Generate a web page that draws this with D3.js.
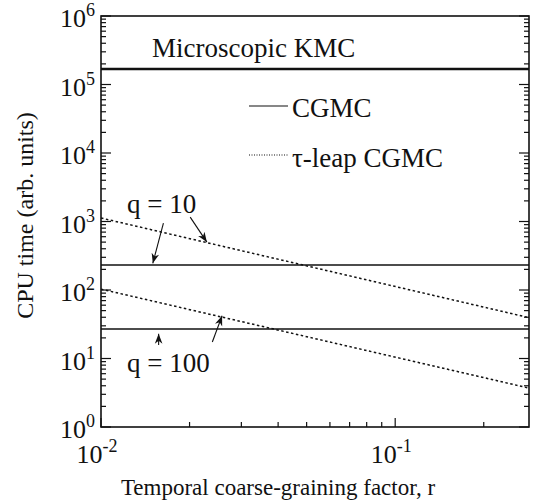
<!DOCTYPE html>
<html>
<head>
<meta charset="utf-8">
<script src="https://cdn.jsdelivr.net/npm/d3@7"></script>
<style>
  body { margin: 0; background: white; }
</style>
</head>
<body>
<svg id="chart"></svg>
<script>
const width = 535;
const height = 503;
const margin = { top: 16, right: 6, bottom: 76, left: 101 };
const serif = "'Liberation Serif', 'Times New Roman', Times, serif";

// data
const rRange = [0.01, 0.285];
const kmcValue = 1.68e5;                 // microscopic KMC, flat
const cgmcValues = { q10: 232, q100: 27 };  // CGMC, flat
const tauLeapQ10 = [1125, 39.5];         // at rRange ends
const tauLeapQ100 = [103, 3.7];

const yTicks = [1, 10, 100, 1e3, 1e4, 1e5, 1e6];
const xTicks = [0.01, 0.1];

// annotation arrows [from, to] in data space
const arrows = [
  [[0.0163, 950], [0.0150, 245]],
  [[0.0201, 1160], [0.0229, 500]],
  [[0.0157, 15.7], [0.0157, 23]],
  [[0.0239, 17.4], [0.0258, 42]]
];
const labels = [
  { text: 'q = 10', r: 0.01226, v: 1330 },
  { text: 'q = 100', r: 0.01226, v: 6.35 }
];

const innerW = width - margin.left - margin.right;
const innerH = height - margin.top - margin.bottom;

const svg = d3.select('#chart')
  .attr('width', width)
  .attr('height', height)
  .attr('font-family', serif);

const g = svg.append('g').attr('transform', `translate(${margin.left},${margin.top})`);

const x = d3.scaleLog().domain(rRange).range([0, innerW]);
const y = d3.scaleLog().domain([1, 1e6]).range([innerH, 0]);

const defs = svg.append('defs');
defs.append('marker')
  .attr('id', 'arrow')
  .attr('viewBox', '0 0 10 10')
  .attr('refX', 10).attr('refY', 5)
  .attr('markerWidth', 10).attr('markerHeight', 10)
  .attr('markerUnits', 'userSpaceOnUse')
  .attr('orient', 'auto')
  .append('path')
  .attr('d', 'M0,1.2 L10,5 L0,8.8 L3,5 Z')
  .attr('fill', '#111');

// minor tick values
const yMinor = [];
for (let e = 0; e < 6; e++) for (let k = 2; k <= 9; k++) yMinor.push(k * Math.pow(10, e));
const xMinor = [];
for (let k = 2; k <= 9; k++) xMinor.push(k * 0.01);
xMinor.push(0.2);

// ticks (inward)
const tickG = g.append('g').attr('stroke', '#111').attr('stroke-width', 1.2);
yTicks.forEach(v => {
  tickG.append('line').attr('x1', 0).attr('x2', 10).attr('y1', y(v)).attr('y2', y(v));
  tickG.append('line').attr('x1', innerW).attr('x2', innerW - 10).attr('y1', y(v)).attr('y2', y(v));
});
yMinor.forEach(v => {
  tickG.append('line').attr('x1', 0).attr('x2', 5).attr('y1', y(v)).attr('y2', y(v));
  tickG.append('line').attr('x1', innerW).attr('x2', innerW - 5).attr('y1', y(v)).attr('y2', y(v));
});
xTicks.forEach(v => {
  tickG.append('line').attr('x1', x(v)).attr('x2', x(v)).attr('y1', innerH).attr('y2', innerH - 9);
});
xMinor.forEach(v => {
  tickG.append('line').attr('x1', x(v)).attr('x2', x(v)).attr('y1', innerH).attr('y2', innerH - 5);
});

// frame
g.append('rect')
  .attr('width', innerW).attr('height', innerH)
  .attr('fill', 'none').attr('stroke', '#111').attr('stroke-width', 1.6);

// tick labels
const supLabel = (sel, exp) => {
  sel.append('tspan').text('10');
  sel.append('tspan').attr('dy', -11).attr('font-size', 18).text(exp);
};
yTicks.forEach(v => {
  const t = g.append('text')
    .attr('x', -6).attr('y', y(v) + 11)
    .attr('text-anchor', 'end').attr('font-size', 26).attr('fill', '#111');
  supLabel(t, String(Math.round(Math.log10(v))));
});
xTicks.forEach(v => {
  const t = g.append('text')
    .attr('x', x(v) - 4).attr('y', innerH + 36)
    .attr('text-anchor', 'middle').attr('font-size', 26).attr('fill', '#111');
  supLabel(t, String(Math.round(Math.log10(v))));
});

// lines
const line = d3.line().x(d => x(d[0])).y(d => y(d[1]));
g.append('path')
  .attr('d', line(rRange.map(r => [r, kmcValue])))
  .attr('stroke', '#111').attr('stroke-width', 2.6).attr('fill', 'none');
Object.values(cgmcValues).forEach(v => {
  g.append('path')
    .attr('d', line(rRange.map(r => [r, v])))
    .attr('stroke', '#111').attr('stroke-width', 1.5).attr('fill', 'none');
});
[tauLeapQ10, tauLeapQ100].forEach(vals => {
  g.append('path')
    .attr('d', line(rRange.map((r, i) => [r, vals[i]])))
    .attr('stroke', '#111').attr('stroke-width', 1.5)
    .attr('stroke-dasharray', '2.5,2.5').attr('fill', 'none');
});

// annotations
const noteSize = 27;
g.append('text').attr('x', 51).attr('y', 41).attr('font-size', noteSize).attr('fill', '#111').text('Microscopic KMC');

g.append('line').attr('x1', 148).attr('x2', 187).attr('y1', 90).attr('y2', 90)
  .attr('stroke', '#111').attr('stroke-width', 1.2);
g.append('text').attr('x', 191).attr('y', 101).attr('font-size', noteSize).attr('fill', '#111').text('CGMC');
g.append('line').attr('x1', 148).attr('x2', 187).attr('y1', 139).attr('y2', 139)
  .attr('stroke', '#111').attr('stroke-width', 1.2).attr('stroke-dasharray', '1,1.5');
g.append('text').attr('x', 191).attr('y', 151).attr('font-size', noteSize).attr('fill', '#111').text('τ-leap CGMC');

labels.forEach(d => {
  g.append('text').attr('x', x(d.r)).attr('y', y(d.v)).attr('font-size', noteSize).attr('fill', '#111').text(d.text);
});
arrows.forEach(([a, b]) => {
  g.append('line')
    .attr('x1', x(a[0])).attr('y1', y(a[1]))
    .attr('x2', x(b[0])).attr('y2', y(b[1]))
    .attr('stroke', '#111').attr('stroke-width', 1.1)
    .attr('marker-end', 'url(#arrow)');
});

// axis titles
svg.append('text')
  .attr('x', 278).attr('y', 495)
  .attr('text-anchor', 'middle').attr('font-size', 23).attr('fill', '#111')
  .text('Temporal coarse-graining factor, r');
svg.append('text')
  .attr('transform', `translate(33,${margin.top + innerH / 2 - 6}) rotate(-90)`)
  .attr('text-anchor', 'middle').attr('font-size', 24).attr('fill', '#111')
  .text('CPU time (arb. units)');
</script>
</body>
</html>
